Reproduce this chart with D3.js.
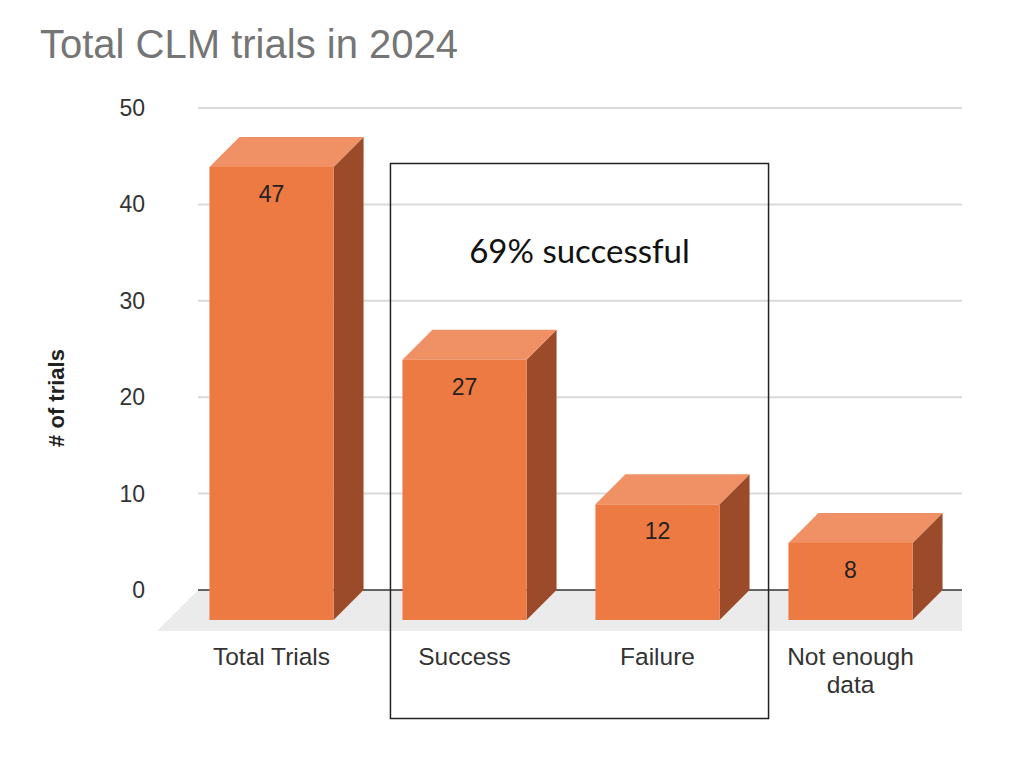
<!DOCTYPE html>
<html>
<head>
<meta charset="utf-8">
<script src="https://cdn.jsdelivr.net/npm/d3@7"></script>
<style>
  body { margin: 0; background: #fff; }
  svg { display: block; }
</style>
</head>
<body>
<svg id="drawing_region"></svg>
<script>
// chart data
const categories = ['Total Trials', 'Success', 'Failure', 'Not enough data'];
const trials = [47, 27, 12, 8];
const yTicks = [0, 10, 20, 30, 40, 50];
const boxedCategories = ['Success', 'Failure'];
const boxNote = '69% successful';

const config = {
    width: 1024,
    height: 764,
    depth: 30,        // 3d offset of bars
    floorDepth: 41,   // 3d offset of floor
    gridLeft: 198,
    gridRight: 962,
    yTop: 108,
    yZero: 590,
    colors: { front: '#ee7a43', top: '#f09065', side: '#9b4b2a' }
};

const svg = d3.select('#drawing_region')
    .attr('width', config.width)
    .attr('height', config.height);

const y = d3.scaleLinear()
    .domain([0, 50])
    .range([config.yZero, config.yTop]);

// front faces of bars
const x = d3.scaleBand()
    .domain(categories)
    .range([175, 947])
    .paddingInner(0.357)
    .paddingOuter(0.1785);

const d = config.depth;

// title
svg.append('text')
    .attr('x', 40)
    .attr('y', 58)
    .attr('font-family', 'Liberation Sans, Arial, sans-serif')
    .attr('font-size', 40)
    .attr('fill', '#757575')
    .text('Total CLM trials in 2024');

// floor
const fd = config.floorDepth;
svg.append('path')
    .attr('d', `M${config.gridLeft},${y(0)} L${config.gridRight},${y(0)} L${config.gridRight},${y(0) + fd} L${config.gridLeft - fd},${y(0) + fd} Z`)
    .attr('fill', '#ebebeb');

// gridlines
const grid = svg.append('g');
grid.selectAll('line')
    .data(yTicks.filter(t => t !== 0))
    .join('line')
    .attr('x1', config.gridLeft)
    .attr('x2', config.gridRight)
    .attr('y1', t => y(t))
    .attr('y2', t => y(t))
    .attr('stroke', '#d9d9d9')
    .attr('stroke-width', 2);

grid.append('line')
    .attr('x1', config.gridLeft)
    .attr('x2', config.gridRight)
    .attr('y1', y(0))
    .attr('y2', y(0))
    .attr('stroke', '#333')
    .attr('stroke-width', 1.5);

// y tick labels
svg.append('g').selectAll('text')
    .data(yTicks)
    .join('text')
    .attr('x', 145)
    .attr('y', t => y(t))
    .attr('dy', '0.35em')
    .attr('text-anchor', 'end')
    .attr('font-family', 'Liberation Sans, Arial, sans-serif')
    .attr('font-size', 23)
    .attr('fill', '#333')
    .text(t => t);

// y axis title
svg.append('text')
    .attr('transform', 'translate(64, 398) rotate(-90)')
    .attr('text-anchor', 'middle')
    .attr('font-family', 'Liberation Sans, Arial, sans-serif')
    .attr('font-size', 22)
    .attr('font-weight', 'bold')
    .attr('fill', '#222')
    .text('# of trials');

// bars
const bars = svg.append('g').selectAll('g')
    .data(categories.map((c, i) => ({ cat: c, value: trials[i] })))
    .join('g');

bars.append('path') // side
    .attr('d', b => {
        const x1 = x(b.cat) + x.bandwidth();
        const yt = y(b.value) + d, yb = y(0) + d;
        return `M${x1},${yt} L${x1 + d},${yt - d} L${x1 + d},${yb - d} L${x1},${yb} Z`;
    })
    .attr('fill', config.colors.side);

bars.append('path') // top
    .attr('d', b => {
        const x0 = x(b.cat), x1 = x0 + x.bandwidth();
        const yt = y(b.value) + d;
        return `M${x0},${yt} L${x0 + d},${yt - d} L${x1 + d},${yt - d} L${x1},${yt} Z`;
    })
    .attr('fill', config.colors.top);

bars.append('rect') // front
    .attr('x', b => x(b.cat))
    .attr('y', b => y(b.value) + d)
    .attr('width', x.bandwidth())
    .attr('height', b => y(0) - y(b.value))
    .attr('fill', config.colors.front);

bars.append('text')
    .attr('x', b => x(b.cat) + x.bandwidth() / 2)
    .attr('y', b => y(b.value) + d + 35)
    .attr('text-anchor', 'middle')
    .attr('font-family', 'Liberation Sans, Arial, sans-serif')
    .attr('font-size', 23)
    .attr('fill', '#222')
    .text(b => b.value);

// category labels (wrapped)
const wrapWidth = 150;
svg.append('g').selectAll('text')
    .data(categories)
    .join('text')
    .attr('x', c => x(c) + x.bandwidth() / 2)
    .attr('y', 665)
    .attr('text-anchor', 'middle')
    .attr('font-family', 'Liberation Sans, Arial, sans-serif')
    .attr('font-size', 24.5)
    .attr('fill', '#333')
    .each(function(c) {
        const el = d3.select(this);
        const words = c.split(' ');
        let line = [];
        let tspan = el.append('tspan').attr('x', el.attr('x')).attr('dy', 0);
        words.forEach(w => {
            line.push(w);
            tspan.text(line.join(' '));
            if (tspan.node().getComputedTextLength() > wrapWidth && line.length > 1) {
                line.pop();
                tspan.text(line.join(' '));
                line = [w];
                tspan = el.append('tspan').attr('x', el.attr('x')).attr('dy', 28).text(w);
            }
        });
    });

// annotation box around success / failure
const bx0 = x(boxedCategories[0]) - 12;
const bx1 = x(boxedCategories[1]) + x.bandwidth() + 49;
svg.append('rect')
    .attr('x', bx0)
    .attr('y', 163.5)
    .attr('width', bx1 - bx0)
    .attr('height', 555)
    .attr('fill', 'none')
    .attr('stroke', '#222')
    .attr('stroke-width', 1.5);

svg.append('text')
    .attr('x', (bx0 + bx1) / 2)
    .attr('y', 263)
    .attr('text-anchor', 'middle')
    .attr('font-family', 'Lato, sans-serif')
    .attr('font-size', 33)
    .attr('fill', '#111')
    .text(boxNote);
</script>
</body>
</html>
